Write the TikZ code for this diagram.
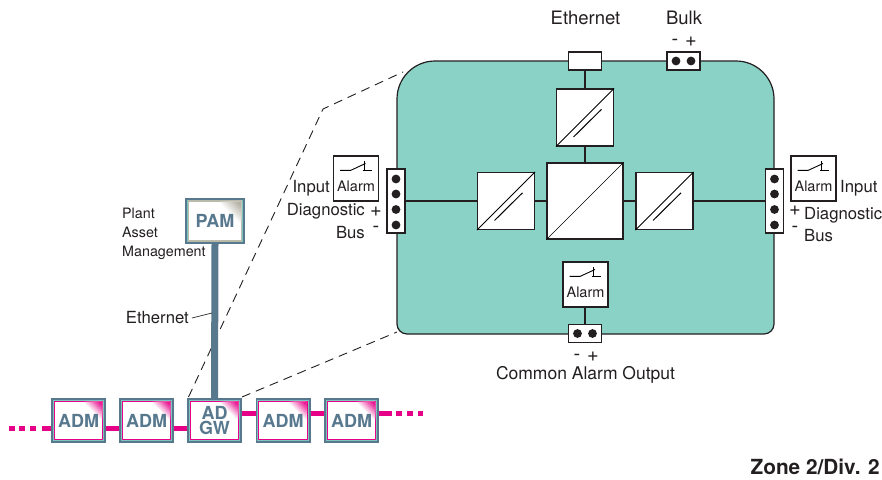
\documentclass[tikz,border=0pt]{standalone}
\usepackage{fontspec}
\setmainfont{TeX Gyre Heros}
\definecolor{steelb}{RGB}{88, 120, 142}
\definecolor{ringteal}{RGB}{125, 196, 190}
\definecolor{busmag}{RGB}{230, 0, 135}
\definecolor{moduleteal}{RGB}{138, 209, 198}
\definecolor{inkdark}{RGB}{35, 31, 32}
\definecolor{pamline}{RGB}{186, 186, 170}
\definecolor{pamcorner}{RGB}{172, 168, 155}
\usetikzlibrary{positioning, calc}
\tikzset{
  txtb/.style={inner sep=0pt, text=inkdark, font=\fontsize{18.5}{20}\selectfont},
  txtm/.style={inner sep=0pt, text=inkdark, font=\fontsize{16.7}{18}\selectfont},
  txts/.style={inner sep=0pt, text=inkdark, font=\fontsize{14.3}{16}\selectfont},
  txtsign/.style={inner sep=0pt, text=inkdark, font=\fontsize{20}{20}\selectfont},
  wire/.style={draw=inkdark, line width=1.2pt},
  zoomline/.style={draw=inkdark, line width=0.9pt, dash pattern=on 9pt off 6pt},
  termbox/.style={draw=inkdark, fill=white, line width=1.2pt, inner sep=0pt},
  convbox/.style={draw=inkdark, fill=white, line width=1.2pt, minimum size=#1, inner sep=0pt},
  alarmbox/.style={draw=inkdark, fill=white, line width=1.2pt, minimum size=45pt, inner sep=0pt},
  modbox/.style n args={3}{draw=steelb, fill=ringteal, line width=1.8pt, inner sep=0pt,
    minimum width=53.2pt, minimum height=43.2pt, align=center, text=steelb,
    font=\bfseries\fontsize{18}{15}\selectfont,
    path picture={
      \fill[#1] ([shift={(1.7,1.7)}]path picture bounding box.north west) rectangle ([shift={(-1.7,-1.7)}]path picture bounding box.south east);
      \fill[white] ([shift={(3,3)}]path picture bounding box.north west) rectangle ([shift={(-3,-3)}]path picture bounding box.south east);
      % corner fade, nested triangles
      \foreach \k in {1,...,9} {
        \fill[#2!\the\numexpr\k*10\relax!white] ([shift={(-3,3)}]path picture bounding box.north east) -- ++({-#3*(11-\k)/10},0) -- ++({#3*(11-\k)/10},{#3*(11-\k)/10}) -- cycle;
      }
    }},
  admbox/.style={modbox={busmag}{busmag}{18}},
  pambox/.style={modbox={pamline}{pamcorner}{22}, minimum width=58pt, minimum height=44.5pt}
}
\begin{document}
\begin{tikzpicture}[x=1pt, y=-1pt]
  \useasboundingbox (0,0) rectangle (882,479);

  % Module body
  \draw[wire, fill=moduleteal] (397,200) [rounded corners=38pt] -- (397,61) -- (774,61) -- (774,200) [rounded corners=10pt] -- (774,334) -- (397,334) -- cycle;

  % Field devices
  \node[pambox] (pam) at (215,221) {PAM};
  \node[admbox] (adma) at (78.5,420.5) {ADM};
  \node[admbox] (admb) at (146.5,420.5) {ADM};
  \node[admbox] (adgw) at (214.5,420.5) {AD\\GW};
  \node[admbox] (admc) at (283,420.5) {ADM};
  \node[admbox] (admd) at (351.5,420.5) {ADM};

  % Zoom lines
  \coordinate (zoombend) at (323,109);
  \coordinate (zoomtop) at (403,72);
  \coordinate (zoombot) at (397,332);
  \draw[zoomline] (adgw.north west) ++(1.5,-1) -- (zoombend) -- (zoomtop);
  \draw[zoomline] (adgw.north east) ++(0,-1) -- (zoombot);

  % Ethernet trunk
  \draw[steelb, line width=7pt] (pam.south) -- (adgw.north);
  \node[txtm, anchor=east] (ethlow) at (189,318) {Ethernet};
  \coordinate (ethtap) at (212,313);
  \draw[inkdark, line width=0.7pt] (ethlow.east) ++(3,0) -- (ethtap);
  \node[txts, anchor=north west, align=left] (pamtxt) at (122,208) {Plant\\[3pt]Asset\\[3pt]Management};

  % Magenta bus
  \coordinate (busl) at (9,428);
  \coordinate (busr) at (423,413);
  \draw[busmag, line width=5pt] (adma.east |- 0,428) -- (admb.west |- 0,428);
  \draw[busmag, line width=5pt] (admb.east |- 0,428) -- (adgw.west |- 0,428);
  \draw[busmag, line width=5pt] (adgw.east |- 0,413) -- (admc.west |- 0,413);
  \draw[busmag, line width=5pt] (admc.east |- 0,413) -- (admd.west |- 0,413);
  \draw[busmag, line width=5pt] (adma.west |- 0,428) -- (41.5,428);
  \draw[busmag, line width=5pt, dash pattern=on 6pt off 4.3pt] (busl) -- (36.5,428);
  \draw[busmag, line width=5pt] (admd.east |- 0,413) -- (392,413);
  \draw[busmag, line width=5pt, dash pattern=on 6pt off 5pt] (396,413) -- (busr);

  % Converters
  \node[convbox=57pt] (convl) at (506,201) {};
  \node[convbox=76pt] (convc) at (585,201) {};
  \node[convbox=57pt] (convr) at (664.5,201) {};
  \node[convbox=57pt] (convt) at (585,117.5) {};
  \draw (convc.south west) -- (convc.north east);
  \foreach \n in {convl, convr, convt} {
    \draw[line width=0.9pt] (\n.south west) -- (\n.north east);
    \draw[line width=1pt] ([shift={(-11.5,19.5)}]\n.center) -- ([shift={(16.5,-8.2)}]\n.center);
  }

  % Alarm contacts
  \node[alarmbox] (alarml) at (356,178.5) {};
  \node[alarmbox] (alarmr) at (813.5,178.5) {};
  \node[alarmbox] (alarmb) at (585.5,284.5) {};
  \foreach \n in {alarml, alarmr, alarmb} {
    \draw[line width=0.9pt] ([shift={(-15.8,-8.2)}]\n.center) -- ([shift={(-5.2,-8.2)}]\n.center) -- ([shift={(9.5,-15)}]\n.center);
    \draw[line width=0.9pt] ([shift={(8.2,-17.5)}]\n.center) -- ([shift={(8.2,-8.2)}]\n.center);
    \draw[line width=0.9pt] ([shift={(6.5,-8.2)}]\n.center) -- ([shift={(15.5,-8.2)}]\n.center);
    \node[txts, font=\fontsize{14.5}{16}\selectfont] (\n txt) at ([shift={(0,8.2)}]\n.center) {Alarm};
  }

  % Terminals
  \node[termbox, minimum width=18pt, minimum height=64pt] (terml) at (396,201) {};
  \node[termbox, minimum width=18pt, minimum height=64pt] (termr) at (774.5,201) {};
  \node[termbox, minimum width=33pt, minimum height=18pt] (termeth) at (585,61) {};
  \node[termbox, minimum width=33pt, minimum height=18pt] (termbulk) at (683.5,61) {};
  \node[termbox, minimum width=33pt, minimum height=18pt] (termalarm) at (585,333.5) {};
  \foreach \d in {-22,-7,8.5,24} {
    \fill[inkdark] ([shift={(0,\d)}]terml.center) circle (4.4);
    \fill[inkdark] ([shift={(0,\d)}]termr.center) circle (4.4);
  }
  \foreach \d in {-7.5,7.5} {
    \fill[inkdark] ([shift={(\d,0)}]termbulk.center) circle (4.4);
    \fill[inkdark] ([shift={(\d,0)}]termalarm.center) circle (4.4);
  }

  % Wiring
  \draw[wire] (terml.east) -- (convl.west);
  \draw[wire] (convl.east) -- (convc.west);
  \draw[wire] (convc.east) -- (convr.west);
  \draw[wire] (convr.east) -- (termr.west);
  \draw[wire] (termeth.south) -- (convt.north);
  \draw[wire] (convt.south) -- (convc.north);
  \draw[wire] (alarmb.south -| termalarm.north) -- (termalarm.north);

  % Left labels
  \node[txtm, anchor=east] (inl) at (330,188) {Input};
  \node[txtm, anchor=east] (diagl) at (365,211) {Diagnostic};
  \node[txtm, anchor=east] (busltxt) at (365,233) {Bus};
  \node[txtsign] (plusl) at (376,212) {+};
  \node[txtsign] (minusl) at (376,229) {-};

  % Right labels
  \node[txtm, anchor=west] (inr) at (840,188) {Input};
  \node[txtm, anchor=west] (diagr) at (804,215) {Diagnostic};
  \node[txtm, anchor=west] (busrtxt) at (804,236) {Bus};
  \node[txtsign] (plusr) at (795,211) {+};
  \node[txtsign] (minusr) at (795,229) {-};

  % Top and bottom labels
  \node[txtb] (ethtop) at (585.5,18) {Ethernet};
  \node[txtb] (bulk) at (684,18) {Bulk};
  \node[txtsign] (minusbulk) at (675,42) {-};
  \node[txtsign] (plusbulk) at (691,42) {+};
  \node[txtsign] (minusalarm) at (577,357) {-};
  \node[txtsign] (plusalarm) at (593,357) {+};
  \node[txtb, font=\fontsize{17.5}{20}\selectfont] (commontxt) at (585.5,375) {Common Alarm Output};
  \node[txtb, anchor=east, font=\bfseries\fontsize{20.8}{22}\selectfont] (zonetxt) at (880,467) {Zone 2/Div. 2};
\end{tikzpicture}
\end{document}
